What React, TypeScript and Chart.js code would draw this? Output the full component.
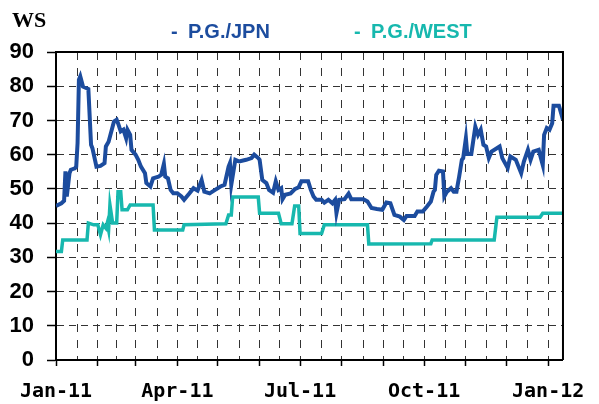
import React, { useEffect, useRef } from 'react';
import { Chart, registerables } from 'chart.js';

Chart.register(...registerables);

// Days counted from 1 Jan 2011
const seriesNames = ['P.G./JPN', 'P.G./WEST'];

const jpnDays = [0, 4, 6, 7, 8, 10, 11, 14, 15, 16, 17, 18, 20, 24, 26, 27, 30, 33, 36, 37, 39, 43, 45, 46, 48, 50, 52, 53, 55, 56, 59, 61, 63, 66, 67, 70, 72, 76, 78, 80, 81, 83, 85, 87, 90, 93, 95, 99, 102, 105, 108, 110, 114, 118, 122, 125, 128, 129, 130, 133, 136, 141, 145, 147, 150, 151, 153, 156, 158, 161, 163, 165, 167, 168, 170, 174, 177, 180, 182, 187, 189, 191, 193, 197, 199, 202, 205, 207, 208, 210, 214, 217, 219, 228, 231, 234, 238, 242, 245, 248, 251, 255, 258, 260, 266, 268, 272, 275, 278, 280, 281, 282, 284, 287, 288, 290, 293, 295, 297, 299, 301, 302, 304, 305, 308, 311, 313, 315, 317, 319, 321, 323, 329, 331, 335, 337, 341, 345, 347, 350, 352, 354, 358, 361, 362, 364, 366, 368, 369, 373, 376];
const jpnValues = [45.0, 45.8, 46.5, 55.1, 47.8, 54.6, 55.6, 56.0, 56.5, 63.4, 81.9, 82.9, 79.9, 79.2, 62.9, 61.9, 56.5, 56.7, 57.5, 62.4, 63.8, 69.7, 70.2, 69.2, 66.8, 67.3, 64.8, 67.3, 65.8, 61.4, 60.0, 58.5, 56.5, 54.6, 51.7, 50.7, 53.1, 53.6, 54.1, 57.3, 53.6, 53.1, 49.7, 48.7, 48.7, 47.8, 46.8, 48.7, 50.2, 49.5, 52.6, 49.2, 48.7, 49.7, 50.7, 51.2, 56.5, 57.5, 51.2, 58.5, 58.0, 58.5, 59.0, 60.0, 59.0, 58.5, 52.6, 51.7, 49.7, 48.9, 52.2, 49.7, 50.2, 47.0, 48.3, 48.7, 49.9, 50.5, 52.2, 52.2, 49.7, 47.8, 46.8, 46.8, 46.0, 46.8, 45.8, 46.8, 42.9, 46.8, 47.0, 48.6, 47.0, 47.0, 46.3, 44.4, 44.1, 43.9, 46.0, 45.8, 42.4, 41.9, 40.9, 42.1, 42.1, 43.4, 43.4, 44.8, 46.3, 49.2, 49.7, 54.1, 55.3, 55.1, 47.8, 49.2, 50.2, 49.2, 49.2, 53.6, 58.5, 59.0, 64.8, 60.2, 60.2, 68.2, 65.8, 67.3, 62.9, 62.4, 59.0, 60.9, 62.4, 59.0, 56.1, 59.5, 58.5, 54.6, 58.0, 61.4, 58.5, 60.9, 61.4, 57.0, 65.8, 67.8, 67.3, 69.2, 74.3, 74.3, 70.2];

const westDays = [0, 4, 5, 23, 24, 28, 31, 33, 35, 37, 38, 39, 40, 42, 45, 46, 48, 49, 53, 55, 72, 73, 94, 95, 126, 128, 130, 131, 150, 151, 165, 167, 175, 177, 180, 181, 197, 199, 231, 232, 278, 279, 325, 327, 359, 361, 376];
const westValues = [31.7, 31.7, 35.1, 35.1, 40.0, 39.5, 39.5, 36.6, 39.5, 38.5, 40.0, 38.0, 45.3, 40.0, 40.0, 49.2, 49.2, 43.9, 43.9, 45.3, 45.3, 38.0, 38.0, 39.5, 39.8, 42.4, 42.4, 47.6, 47.6, 42.9, 42.9, 39.8, 39.8, 45.0, 45.0, 37.0, 37.0, 39.5, 39.5, 33.9, 34.0, 35.1, 35.1, 41.7, 41.7, 42.9, 42.9];

const monthStartDays = [0, 31, 59, 90, 120, 151, 181, 212, 243, 273, 304, 334, 365];
const xLabelDays = [0, 90, 181, 273, 365];
const xLabels = ['Jan-11', 'Apr-11', 'Jul-11', 'Oct-11', 'Jan-12'];
const yTitle = 'WS';

const jpnColor = '#1C4C9E';
const westColor = '#17B8AE';

export default function App() {
  const ref = useRef<HTMLCanvasElement | null>(null);

  useEffect(() => {
    if (!ref.current) return;
    const gridTicks: number[] = [];
    for (let i = 0; i < monthStartDays.length; i++) {
      gridTicks.push(monthStartDays[i]);
      if (i < monthStartDays.length - 1) {
        gridTicks.push(Math.round((monthStartDays[i] + monthStartDays[i + 1]) / 2));
      }
    }

    const decor = {
      id: 'decor',
      afterDraw(chart: any) {
        const ctx = chart.ctx;
        const a = chart.chartArea;
        ctx.save();
        ctx.setLineDash([]);
        ctx.strokeStyle = '#000';
        ctx.lineWidth = 2;
        ctx.beginPath();
        ctx.moveTo(a.left, a.top);
        ctx.lineTo(a.right, a.top);
        ctx.lineTo(a.right, a.bottom);
        ctx.stroke();

        ctx.textAlign = 'left';
        ctx.textBaseline = 'alphabetic';
        ctx.fillStyle = '#000';
        ctx.font = 'bold 22px "Liberation Serif", "Times New Roman", serif';
        ctx.fillText(yTitle, 12, 27);

        ctx.font = 'bold 20px "Liberation Sans", Arial, sans-serif';
        ctx.fillStyle = jpnColor;
        ctx.fillText('-', 171, 38);
        ctx.fillText(seriesNames[0], 188, 38);
        ctx.fillStyle = westColor;
        ctx.fillText('-', 354, 38);
        ctx.fillText(seriesNames[1], 371, 38);
        ctx.restore();
      },
    };

    const chart = new Chart(ref.current, {
      type: 'line',
      data: {
        datasets: [
          {
            label: seriesNames[0],
            data: jpnDays.map((d, i) => ({ x: d, y: jpnValues[i] })),
            borderColor: jpnColor,
            borderWidth: 4,
            pointRadius: 0,
            tension: 0,
            fill: false,
          },
          {
            label: seriesNames[1],
            data: westDays.map((d, i) => ({ x: d, y: westValues[i] })),
            borderColor: westColor,
            borderWidth: 3.5,
            pointRadius: 0,
            tension: 0,
            fill: false,
          },
        ],
      },
      options: {
        animation: false,
        responsive: false,
        events: [],
        layout: { padding: { top: 52, right: 25, left: 0, bottom: 0 } },
        plugins: {
          legend: { display: false },
          tooltip: { enabled: false },
          title: { display: false },
        },
        scales: {
          x: {
            type: 'linear',
            min: 0,
            max: 376,
            afterFit: (s: any) => {
              s.height = 44;
            },
            afterBuildTicks: (s: any) => {
              s.ticks = gridTicks.map((v) => ({ value: v }));
            },
            border: { display: true, color: '#000', width: 2, dash: [8, 8] },
            grid: {
              display: true,
              color: '#333',
              lineWidth: 1,
              tickLength: 6,
              tickWidth: 1.5,
              tickColor: (c: any) =>
                c.tick && monthStartDays.includes(c.tick.value) ? '#000' : 'rgba(0,0,0,0)',
            },
            ticks: {
              autoSkip: false,
              maxRotation: 0,
              minRotation: 0,
              padding: 14,
              color: '#000',
              font: { family: '"DejaVu Sans Mono", monospace', size: 20, weight: 'bold' },
              callback: (v: any) => {
                const i = xLabelDays.indexOf(Number(v));
                return i >= 0 ? xLabels[i] : '';
              },
            },
          },
          y: {
            min: 0,
            max: 90,
            afterFit: (s: any) => {
              s.width = 56;
            },
            border: { display: true, color: '#000', width: 2, dash: [7, 5] },
            grid: {
              display: true,
              color: '#333',
              lineWidth: 1,
              tickLength: 9,
              tickColor: '#000',
              tickWidth: 1.5,
            },
            ticks: {
              stepSize: 10,
              autoSkip: false,
              padding: 13,
              color: '#000',
              font: { family: '"Liberation Sans", Arial, sans-serif', size: 22, weight: 'bold' },
            },
          },
        },
      },
      plugins: [decor],
    } as any);

    return () => chart.destroy();
  }, []);

  return (
    <div style={{ position: 'absolute', left: 0, top: 0, width: 599, height: 404, background: '#fff' }}>
      <canvas ref={ref} width={599} height={404} />
    </div>
  );
}
